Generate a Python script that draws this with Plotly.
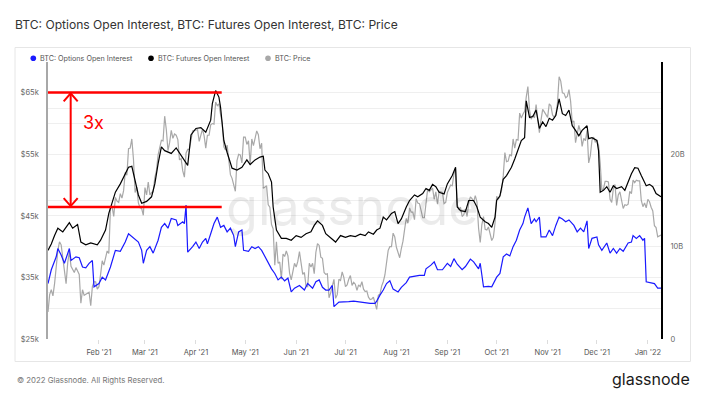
import pandas as pd
import plotly.graph_objects as go

START = "2021-01-01"

# ---- BTC price (k USD), daily, by month ----
price_2021_01 = [29.4, 32.2, 33.0, 32.0, 34.0, 36.8, 39.4, 40.8, 40.3, 38.2, 35.5, 34.0, 37.4, 39.2, 36.8, 36.2,
                 35.8, 36.6, 36.0, 35.5, 30.8, 33.0, 32.1, 32.3, 32.4, 32.6, 30.4, 33.5, 34.3, 34.3, 33.1]
price_2021_02 = [33.5, 35.5, 37.7, 37.0, 38.3, 39.3, 38.9, 46.2, 46.5, 44.9, 48.0, 47.4, 47.2, 48.6, 47.9, 49.1,
                 52.1, 51.6, 55.9, 56.0, 57.5, 54.2, 48.8, 49.7, 47.1, 46.3, 46.2, 45.1]
price_2021_03 = [49.6, 48.4, 50.5, 48.4, 48.8, 48.9, 51.2, 52.4, 54.9, 55.9, 57.3, 57.2, 61.2, 59.0, 55.6, 56.9,
                 58.9, 57.6, 58.3, 58.1, 57.4, 54.1, 54.3, 52.3, 51.3, 55.2, 55.8, 55.8, 57.6, 58.8, 58.9]
price_2021_04 = [59.0, 59.0, 57.1, 58.2, 59.1, 58.0, 56.0, 58.1, 58.1, 59.8, 60.0, 59.9, 63.5, 62.9, 63.2, 61.5,
                 60.1, 56.2, 55.7, 56.5, 53.8, 51.7, 51.1, 50.0, 49.0, 54.0, 55.0, 54.9, 53.6, 57.8]
price_2021_05 = [57.8, 56.6, 57.2, 53.3, 57.5, 56.4, 57.4, 58.8, 58.2, 55.9, 56.8, 49.5, 49.7, 49.9, 46.8, 46.4,
                 43.6, 42.9, 37.0, 40.8, 37.3, 37.5, 34.7, 38.8, 38.4, 39.3, 38.5, 35.7, 34.6, 35.7, 37.3]
price_2021_06 = [36.7, 37.6, 39.2, 36.9, 35.5, 35.8, 33.6, 33.5, 37.3, 36.7, 37.3, 35.6, 39.1, 40.5, 40.2, 38.3,
                 38.1, 35.8, 35.5, 35.6, 31.7, 32.5, 33.7, 34.7, 31.6, 32.2, 34.7, 34.5, 35.9, 35.0]
price_2021_07 = [33.5, 33.8, 34.7, 35.3, 33.7, 34.2, 33.9, 32.9, 33.8, 33.5, 34.3, 33.1, 32.7, 32.8, 31.8, 31.4,
                 31.5, 31.8, 30.8, 29.8, 32.1, 32.3, 33.6, 34.3, 35.4, 37.3, 39.4, 40.0, 40.0, 42.2, 41.6]
price_2021_08 = [39.9, 39.2, 38.2, 39.7, 40.9, 42.8, 44.6, 43.8, 46.3, 45.6, 45.6, 44.4, 47.8, 47.1, 47.0, 45.9,
                 44.7, 44.7, 46.8, 49.3, 48.9, 49.3, 49.5, 47.7, 48.9, 46.9, 49.0, 48.9, 48.8, 47.0, 47.2]
price_2021_09 = [48.8, 49.3, 50.0, 49.9, 51.8, 52.7, 46.8, 46.1, 46.4, 44.9, 45.2, 46.1, 44.9, 47.1, 48.1, 47.8,
                 47.3, 48.3, 47.3, 43.0, 40.7, 43.6, 44.9, 42.8, 42.7, 43.2, 42.2, 41.0, 41.5, 43.8]
price_2021_10 = [48.2, 47.7, 48.2, 49.2, 51.5, 55.3, 53.8, 53.9, 55.0, 54.7, 57.5, 56.0, 57.4, 57.3, 61.7, 60.9,
                 61.5, 62.0, 64.3, 66.0, 62.2, 60.7, 61.3, 60.9, 63.1, 60.3, 58.5, 60.6, 62.3, 61.9, 61.3]
price_2021_11 = [61.0, 63.2, 62.9, 61.4, 61.0, 61.5, 63.3, 67.6, 66.9, 65.0, 64.9, 64.2, 64.4, 65.5, 63.6, 60.2,
                 60.4, 56.9, 58.1, 59.7, 58.7, 56.3, 57.6, 57.2, 58.9, 53.6, 54.8, 57.3, 57.8, 57.0]
price_2021_12 = [57.2, 56.5, 53.6, 49.2, 49.4, 50.6, 50.6, 50.5, 47.7, 47.2, 49.4, 50.1, 46.7, 48.4, 48.9, 47.6,
                 46.2, 46.8, 46.7, 46.9, 49.0, 48.6, 50.8, 50.4, 50.8, 50.7, 50.7, 47.5, 46.5, 47.1, 46.3]
price_2022_01 = [47.7, 47.3, 46.4, 45.8, 43.4, 43.1, 41.6, 41.8, 41.9]

# ---- Futures open interest (billion USD), day offset from START ----
fut_day = [0, 2, 4, 6, 9, 13, 15, 18, 20, 23, 26, 30, 32, 35, 37, 39, 41, 44, 47, 49, 51, 53, 55, 57, 60, 63, 65,
           67, 69, 71, 75, 78, 81, 85, 87, 90, 93, 96, 99, 100, 102, 104, 105, 107, 109, 112, 115, 118, 121, 123,
           126, 129, 131, 132, 134, 136, 137, 139, 142, 145, 148, 151, 154, 157, 160, 162, 164, 167, 169, 172, 175,
           178, 181, 184, 187, 190, 193, 195, 198, 200, 202, 204, 206, 209, 211, 213, 215, 218, 220, 223, 225, 228,
           230, 232, 234, 236, 238, 241, 243, 246, 248, 249, 251, 254, 256, 259, 261, 263, 266, 268, 270, 272, 273,
           275, 277, 279, 282, 284, 286, 288, 290, 291, 293, 295, 297, 299, 301, 303, 305, 307, 309, 311, 313, 315,
           317, 319, 321, 323, 325, 328, 329, 331, 334, 335, 336, 338, 340, 342, 344, 346, 349, 351, 353, 355, 357,
           359, 361, 364, 366, 368, 370, 373]
fut_bn = [9.6, 10.3, 11.2, 12.0, 11.6, 12.6, 12.0, 12.4, 10.5, 10.2, 10.4, 10.2, 10.7, 11.8, 13.6, 14.8, 15.9, 16.8,
          17.9, 18.6, 18.7, 17.2, 15.6, 14.7, 14.9, 15.4, 16.8, 19.0, 20.8, 20.4, 20.1, 20.7, 19.9, 18.8, 22.1, 22.8,
          22.9, 22.4, 23.7, 25.5, 26.9, 26.2, 25.1, 21.5, 20.2, 18.5, 18.3, 18.6, 19.4, 18.9, 19.4, 19.7, 19.8, 18.3,
          17.9, 17.0, 14.3, 11.8, 10.9, 10.9, 10.7, 11.2, 11.0, 11.4, 11.6, 12.3, 12.8, 12.3, 11.4, 11.0, 10.5, 11.2,
          11.0, 11.2, 11.1, 11.35, 11.2, 11.6, 11.35, 11.8, 12.0, 13.2, 12.9, 13.6, 13.8, 12.5, 13.0, 14.3, 15.0, 15.6,
          15.4, 15.75, 16.3, 16.1, 16.75, 16.5, 15.9, 15.7, 16.8, 17.7, 18.6, 14.3, 13.9, 13.8, 15.0, 15.0, 14.3, 13.2,
          12.7, 12.5, 12.1, 13.2, 15.0, 15.5, 17.3, 17.7, 18.6, 19.5, 20.4, 21.5, 21.8, 25.8, 24.0, 24.1, 24.8, 22.8,
          23.5, 23.0, 23.9, 23.7, 24.2, 26.0, 24.4, 24.2, 24.8, 23.1, 22.6, 22.0, 22.6, 23.1, 21.7, 21.8, 21.5, 20.4,
          15.9, 16.1, 16.5, 15.9, 16.6, 16.3, 16.5, 16.1, 17.0, 17.9, 18.55, 18.5, 17.7, 16.6, 16.75, 16.5, 15.75, 15.4]

# ---- Options open interest (billion USD), day offset from START ----
opt_day = [0, 2, 5, 6, 8, 10, 13, 14, 17, 19, 21, 23, 25, 27, 28, 31, 33, 35, 38, 40, 41, 44, 47, 49, 52, 55, 57, 58,
           60, 62, 64, 67, 69, 71, 73, 75, 78, 79, 82, 83, 84, 85, 88, 90, 92, 94, 96, 97, 99, 101, 103, 105, 107, 109,
           111, 113, 114, 116, 118, 119, 122, 124, 126, 128, 130, 132, 134, 136, 138, 140, 142, 144, 146, 148, 150,
           153, 156, 158, 161, 163, 165, 167, 169, 171, 173, 174, 177, 180, 183, 186, 190, 193, 196, 199, 200, 202,
           204, 206, 208, 210, 213, 215, 218, 220, 223, 226, 229, 230, 233, 235, 237, 240, 243, 245, 247, 249, 252,
           254, 257, 259, 262, 263, 265, 268, 270, 273, 275, 277, 279, 281, 283, 285, 287, 289, 290, 292, 294, 296,
           297, 299, 300, 303, 305, 307, 309, 311, 313, 315, 317, 320, 322, 324, 326, 328, 329, 331, 334, 335, 337,
           340, 342, 344, 346, 348, 350, 353, 355, 356, 358, 360, 362, 363, 364, 366, 369, 371, 373]
opt_bn = [6.0, 7.5, 8.9, 9.8, 9.1, 8.2, 9.8, 8.5, 8.9, 8.8, 7.8, 7.7, 8.2, 8.5, 5.65, 6.0, 6.7, 6.4, 7.8, 8.9, 9.6,
          9.5, 10.5, 11.4, 10.9, 10.5, 9.6, 8.2, 9.6, 10.0, 9.3, 10.7, 12.1, 12.5, 12.0, 13.05, 12.9, 12.3, 12.7, 12.5,
          14.5, 9.4, 10.0, 10.5, 9.8, 10.5, 10.9, 10.3, 11.4, 12.5, 13.2, 12.1, 12.3, 11.6, 12.0, 11.2, 10.0, 11.6,
          11.8, 9.6, 9.5, 10.0, 9.8, 10.0, 9.6, 8.9, 8.35, 7.6, 7.1, 6.4, 6.7, 6.3, 6.6, 5.1, 5.5, 5.8, 5.3, 6.0, 5.5,
          6.2, 6.4, 5.6, 5.3, 5.3, 5.8, 3.5, 4.0, 4.0, 4.05, 4.1, 4.0, 3.96, 3.86, 3.86, 4.1, 4.75, 5.3, 6.0, 6.3, 5.4,
          5.1, 5.6, 6.1, 6.7, 6.8, 6.9, 6.9, 7.6, 8.0, 8.35, 7.5, 7.5, 8.2, 7.85, 8.7, 8.1, 7.5, 7.85, 8.65, 8.35, 7.6,
          8.2, 5.65, 5.7, 5.65, 6.7, 7.1, 8.9, 9.2, 9.0, 10.0, 10.7, 11.8, 12.5, 13.2, 14.2, 12.5, 13.0, 12.7, 13.2,
          11.05, 11.05, 11.8, 11.2, 12.3, 13.2, 13.0, 12.7, 12.9, 12.3, 11.6, 12.0, 11.6, 12.8, 9.8, 10.9, 11.05, 10.2,
          9.6, 10.4, 9.3, 9.8, 9.3, 9.8, 9.5, 10.4, 10.5, 11.2, 10.9, 11.2, 10.7, 10.9, 6.2, 6.1, 6.0, 5.5, 5.5]

# ---- axis ticks ----
x_tick_dates = ["2021-02-01", "2021-03-01", "2021-04-01", "2021-05-01", "2021-06-01", "2021-07-01",
                "2021-08-01", "2021-09-01", "2021-10-01", "2021-11-01", "2021-12-01", "2022-01-01"]
x_tick_text = ["Feb '21", "Mar '21", "Apr '21", "May '21", "Jun '21", "Jul '21",
               "Aug '21", "Sep '21", "Oct '21", "Nov '21", "Dec '21", "Jan '22"]
price_ticks = [25000, 35000, 45000, 55000, 65000]
price_tick_text = ["$25k", "$35k", "$45k", "$55k", "$65k"]
price_grid = [30000, 40000, 50000, 60000, 70000]
oi_ticks = [0, 10, 20]
oi_tick_text = ["0", "10B", "20B"]
oi_grid = [5, 15, 25, 30]

# ---- annotation levels (futures OI, billions) ----
level_high = 26.7
level_low = 14.3
level_end_day = 105.7
arrow_day = 13.8
label_day = 27.4
label_level = 23.4

start = pd.Timestamp(START)
price_k = (price_2021_01 + price_2021_02 + price_2021_03 + price_2021_04 + price_2021_05 + price_2021_06 +
           price_2021_07 + price_2021_08 + price_2021_09 + price_2021_10 + price_2021_11 + price_2021_12 +
           price_2022_01)
price_dates = pd.date_range(start, periods=len(price_k), freq="D")
price_usd = [v * 1000 for v in price_k]
fut_dates = [start + pd.Timedelta(days=d) for d in fut_day]
opt_dates = [start + pd.Timedelta(days=d) for d in opt_day]
end = price_dates[-1]

BLUE = "#1a1aff"
BLACK = "#000000"
GREY = "#a8a8a8"
RED = "#ff0000"
FONT = "Inter, Open Sans, sans-serif"

fig = go.Figure()
fig.add_trace(go.Scatter(x=price_dates, y=price_usd, name="BTC: Price", mode="lines",
                         line=dict(color=GREY, width=1.2), yaxis="y"))
fig.add_trace(go.Scatter(x=fut_dates, y=fut_bn, name="BTC: Futures Open Interest", mode="lines",
                         line=dict(color=BLACK, width=1.2), yaxis="y2"))
fig.add_trace(go.Scatter(x=opt_dates, y=opt_bn, name="BTC: Options Open Interest", mode="lines",
                         line=dict(color=BLUE, width=1.2), yaxis="y2"))

GRID = "#efefef"
fig.update_layout(
    width=706, height=397, autosize=False,
    margin=dict(l=48, r=45, t=62, b=58),
    paper_bgcolor="white", plot_bgcolor="white",
    font=dict(family=FONT, size=8, color="#666"),
    showlegend=False,
    title=dict(text="BTC: Options Open Interest, BTC: Futures Open Interest, BTC: Price",
               x=15 / 706, xref="container", xanchor="left",
               y=1 - 25 / 397, yref="container", yanchor="middle",
               font=dict(family=FONT, size=12.1, color="#333")),
    xaxis=dict(type="date", range=[start, end], tickmode="array", tickvals=x_tick_dates, ticktext=x_tick_text,
               showgrid=False, showline=False, zeroline=False, ticks="outside", ticklen=4, tickcolor="#dddddd",
               tickfont=dict(size=7.5, color="#555"), ticklabelstandoff=2),
    yaxis=dict(range=[25000, 70000], tickmode="array", tickvals=price_ticks, ticktext=price_tick_text,
               showgrid=True, gridcolor=GRID, zeroline=False, showline=True, linecolor=GREY, linewidth=1.5,
               ticks="", tickfont=dict(size=7.5, color="#666"), ticklabelstandoff=6,
               minor=dict(tickmode="array", tickvals=price_grid, showgrid=True, gridcolor=GRID, ticks="")),
    yaxis2=dict(range=[0, 30], overlaying="y", side="right", tickmode="array", tickvals=oi_ticks,
                ticktext=oi_tick_text, showgrid=True, gridcolor=GRID, zeroline=False, showline=True,
                linecolor=BLACK, linewidth=2, ticks="", tickfont=dict(size=7.5, color="#666"),
                ticklabelstandoff=6,
                minor=dict(tickmode="array", tickvals=oi_grid, showgrid=True, gridcolor=GRID, ticks="")),
)

shapes = []
# card border
shapes.append(dict(type="rect", xref="paper", yref="paper", x0=(15 - 48) / 613, x1=(690.5 - 48) / 613,
                   y0=(339 - 361.5) / 277, y1=(339 - 47.5) / 277, line=dict(color="#e6e6e6", width=1),
                   fillcolor="rgba(0,0,0,0)", layer="below"))
# red level lines
level_end = start + pd.Timedelta(days=level_end_day)
for lv in (level_high, level_low):
    shapes.append(dict(type="line", xref="x", yref="y2", x0=start, x1=level_end, y0=lv, y1=lv,
                       line=dict(color=RED, width=2.5)))
arrow_x = start + pd.Timedelta(days=arrow_day)
shapes.append(dict(type="line", xref="x", yref="y2", x0=arrow_x, x1=arrow_x, y0=level_high - 0.1,
                   y1=level_low + 0.1, line=dict(color=RED, width=2)))
shapes.append(dict(type="path", xref="x", yref="y2", xsizemode="pixel", ysizemode="pixel",
                   xanchor=arrow_x, yanchor=level_high - 0.1, path="M -7,-8 L 0,0 L 7,-8",
                   line=dict(color=RED, width=2)))
shapes.append(dict(type="path", xref="x", yref="y2", xsizemode="pixel", ysizemode="pixel",
                   xanchor=arrow_x, yanchor=level_low + 0.1, path="M -7,8 L 0,0 L 7,8",
                   line=dict(color=RED, width=2)))

# custom legend
legend_items = [("BTC: Options Open Interest", BLUE, 33.3), ("BTC: Futures Open Interest", BLACK, 151),
                ("BTC: Price", GREY, 268)]
annotations = []
ly = (339 - 58.3) / 277
for name, col, px in legend_items:
    shapes.append(dict(type="circle", xref="paper", yref="paper", xsizemode="pixel", ysizemode="pixel",
                       xanchor=(px - 48) / 613, yanchor=ly, x0=-2.8, x1=2.8, y0=-2.8, y1=2.8,
                       fillcolor=col, line=dict(color=col, width=0)))
    annotations.append(dict(text=name, xref="paper", yref="paper", x=(px + 5 - 48) / 613, y=ly,
                            xanchor="left", yanchor="middle", showarrow=False,
                            font=dict(family=FONT, size=7.2, color="#555")))

annotations.append(dict(text="3x", xref="x", yref="y2", x=start + pd.Timedelta(days=label_day), y=label_level,
                        showarrow=False, font=dict(family=FONT, size=18, color=RED)))
annotations.append(dict(text="glassnode", xref="paper", yref="paper", x=(352 - 48) / 613, y=(339 - 206) / 277,
                        showarrow=False, font=dict(family=FONT, size=52, color="rgba(0,0,0,0.08)")))
annotations.append(dict(text="© 2022 Glassnode. All Rights Reserved.", xref="paper", yref="paper",
                        x=(15 - 48) / 613, y=(339 - 379.5) / 277, xanchor="left", yanchor="middle",
                        showarrow=False, font=dict(family=FONT, size=7.8, color="#777")))
annotations.append(dict(text="glassnode", xref="paper", yref="paper",
                        x=(691.5 - 48) / 613, y=(339 - 378.5) / 277, xanchor="right", yanchor="middle",
                        showarrow=False, font=dict(family=FONT, size=16, color="#1a1a1a")))

fig.update_layout(shapes=shapes, annotations=annotations)
fig.write_html("out.html", config={"displayModeBar": False},
               post_script="document.body.style.margin='0';")
